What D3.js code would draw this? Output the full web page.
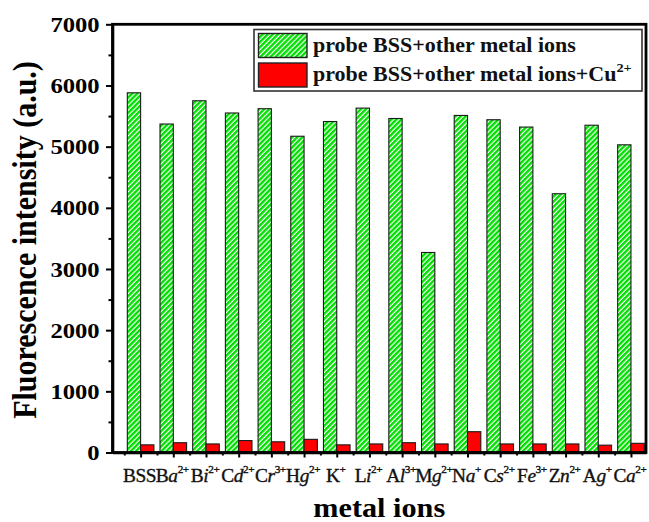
<!DOCTYPE html>
<html>
<head>
<meta charset="utf-8">
<script src="https://cdn.jsdelivr.net/npm/d3@7"></script>
<style>
  body { margin: 0; background: #fff; }
  text { font-family: "Liberation Serif", "Times New Roman", serif; }
</style>
</head>
<body>
<svg id="chart" width="649" height="522"></svg>
<script>
// Ion tested in each group (symbol + charge written as superscript)
const ionSymbols = ["BSS", "Ba", "Bi", "Cd", "Cr", "Hg", "K", "Li", "Al", "Mg", "Na", "Cs", "Fe", "Zn", "Ag", "Ca"];
const ionCharges = ["", "2+", "2+", "2+", "3+", "2+", "+", "2+", "3+", "2+", "+", "2+", "3+", "2+", "+", "2+"];

// Fluorescence intensity (a.u.)
const withOtherIons = [5880, 5370, 5750, 5550, 5620, 5170, 5410, 5630, 5460, 3270, 5510, 5440, 5320, 4230, 5350, 5030];
const withOtherIonsAndCu = [125, 160, 140, 195, 175, 215, 125, 140, 160, 140, 340, 140, 140, 140, 120, 150];

const yTickValues = [0, 1000, 2000, 3000, 4000, 5000, 6000, 7000];
const yMinorTicks = [500, 1500, 2500, 3500, 4500, 5500, 6500];

const legendLabels = ["probe BSS+other metal ions", "probe BSS+other metal ions+Cu"];
const legendSup = ["", "2+"];
const xTitle = "metal ions";
const yTitle = "Fluorescence intensity (a.u.)";

const svg = d3.select("#chart");
const plot = { left: 112.5, right: 646, top: 24.3, bottom: 452.5 };
const stretch = 1.12;

const x = d3.scaleLinear().domain([0.14, 16.46]).range([plot.left, plot.right]);
const y = d3.scaleLinear().domain([0, 7000]).range([plot.bottom, plot.top]);
const barW = 13.3;
const positions = ionSymbols.map((_, i) => i + 1);

// Diagonal green hatch
const defs = svg.append("defs");
const pat = defs.append("pattern")
  .attr("id", "hatch")
  .attr("patternUnits", "userSpaceOnUse")
  .attr("width", 3.6).attr("height", 3.6)
  .attr("patternTransform", "rotate(45)");
pat.append("rect").attr("width", 3.6).attr("height", 3.6).attr("fill", "#fff");
pat.append("rect").attr("width", 2.4).attr("height", 3.6).attr("fill", "#00dd00");

// Bars
svg.append("g").selectAll("rect")
  .data(withOtherIons)
  .join("rect")
  .attr("x", (d, i) => x(positions[i]) - barW)
  .attr("y", d => y(d))
  .attr("width", barW)
  .attr("height", d => y(0) - y(d))
  .attr("fill", "url(#hatch)")
  .attr("stroke", "#1a1a1a")
  .attr("stroke-width", 1.1);

svg.append("g").selectAll("rect")
  .data(withOtherIonsAndCu)
  .join("rect")
  .attr("x", (d, i) => x(positions[i]))
  .attr("y", d => y(d))
  .attr("width", barW)
  .attr("height", d => y(0) - y(d))
  .attr("fill", "#ff0000")
  .attr("stroke", "#1a1a1a")
  .attr("stroke-width", 1.1);

// Y axis
const yAxis = svg.append("g")
  .attr("transform", `translate(${plot.left},0)`)
  .call(d3.axisLeft(y).tickValues(yTickValues).tickFormat(d3.format("d"))
    .tickSize(6.5).tickSizeOuter(0).tickPadding(5));
yAxis.select(".domain").attr("stroke-width", 2.6);
yAxis.selectAll(".tick line").attr("stroke-width", 2);
yAxis.selectAll(".tick text")
  .attr("font-size", 22)
  .attr("font-weight", "bold")
  .attr("font-family", "'Liberation Serif', serif")
  .attr("fill", "#000")
  .attr("transform", `scale(${stretch},1)`);

svg.append("g")
  .attr("transform", `translate(${plot.left},0)`)
  .call(d3.axisLeft(y).tickValues(yMinorTicks).tickSize(4).tickSizeOuter(0).tickFormat(""))
  .call(g => g.select(".domain").remove())
  .selectAll(".tick line").attr("stroke-width", 2);

// X axis
const xAxis = svg.append("g")
  .attr("transform", `translate(0,${plot.bottom})`)
  .call(d3.axisBottom(x).tickValues(positions).tickSize(5).tickSizeOuter(0).tickFormat(""));
xAxis.select(".domain").attr("stroke-width", 2.6);
xAxis.selectAll(".tick line").attr("stroke-width", 2);

svg.append("g")
  .attr("transform", `translate(0,${plot.bottom})`)
  .call(d3.axisBottom(x).tickValues(positions.map(p => p - 0.5)).tickSize(3).tickSizeOuter(0).tickFormat(""))
  .call(g => g.select(".domain").remove())
  .selectAll(".tick line").attr("stroke-width", 2);

// Frame
svg.append("rect")
  .attr("x", plot.left).attr("y", plot.top)
  .attr("width", plot.right - plot.left).attr("height", plot.bottom - plot.top)
  .attr("fill", "none").attr("stroke", "#000").attr("stroke-width", 2.8);

// Category labels
const labels = svg.append("g").selectAll("text")
  .data(ionSymbols)
  .join("text")
  .attr("transform", (d, i) => `translate(${x(positions[i]) - 1},482) scale(1.02,1)`)
  .attr("text-anchor", "middle")
  .attr("font-size", 19)
  .attr("letter-spacing", -0.4)
  .attr("fill", "#111")
  .attr("stroke", "#111")
  .attr("stroke-width", 0.35);
labels.each(function (d, i) {
  const t = d3.select(this);
  if (ionCharges[i] === "") {
    t.append("tspan").text(d);
  } else {
    t.append("tspan").text(d[0]);
    if (d.length > 1) t.append("tspan").attr("font-style", "italic").text(d.slice(1));
    t.append("tspan").attr("font-size", 11).attr("dy", -9).text(ionCharges[i]);
  }
});

// Axis titles
svg.append("text")
  .attr("transform", `translate(${(plot.left + plot.right) / 2},517) scale(${stretch},1)`)
  .attr("text-anchor", "middle")
  .attr("font-size", 27)
  .attr("font-weight", "bold")
  .text(xTitle);

svg.append("text")
  .attr("transform", `translate(36,240) rotate(-90) scale(1,${stretch})`)
  .attr("text-anchor", "middle")
  .attr("font-size", 30)
  .attr("font-weight", "bold")
  .text(yTitle);

// Legend
const legend = svg.append("g");
legend.append("rect")
  .attr("x", 254).attr("y", 29.5).attr("width", 388).attr("height", 61.5)
  .attr("fill", "#fff").attr("stroke", "#333").attr("stroke-width", 1.6);
const swatchFills = ["url(#hatch)", "#ff0000"];
legendLabels.forEach((lab, k) => {
  const top = 33.5 + k * 29.5;
  legend.append("rect")
    .attr("x", 258.5).attr("y", top).attr("width", 48.5).attr("height", 24)
    .attr("fill", swatchFills[k]).attr("stroke", "#222").attr("stroke-width", 1.4);
  const t = legend.append("text")
    .attr("transform", `translate(313,${52 + k * 28.5}) scale(1.1,1)`)
    .attr("font-size", 20)
    .attr("font-weight", "bold")
    .attr("fill", "#111");
  t.append("tspan").text(lab);
  if (legendSup[k]) t.append("tspan").attr("font-size", 13).attr("dy", -9).text(legendSup[k]);
});
</script>
</body>
</html>
